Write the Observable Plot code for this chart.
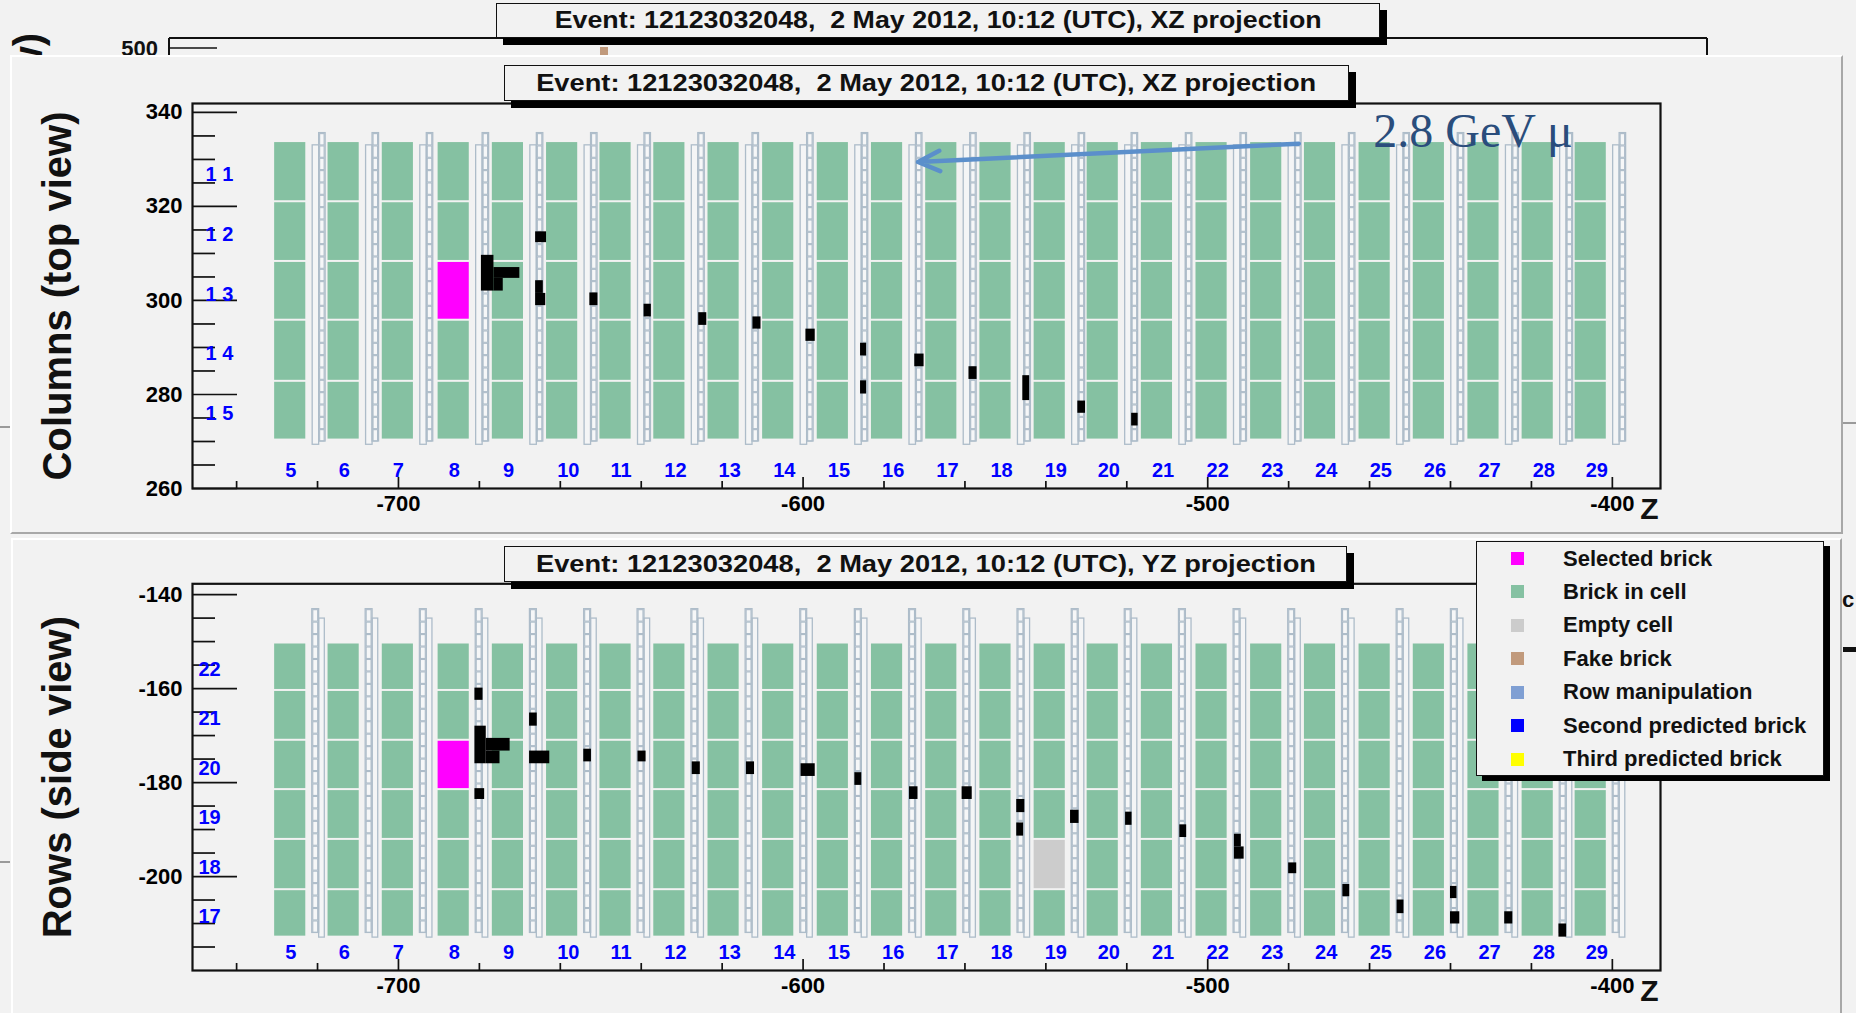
<!DOCTYPE html>
<html>
<head>
<meta charset="utf-8">
<script src="https://cdn.jsdelivr.net/npm/d3@7"></script>
<script src="https://cdn.jsdelivr.net/npm/@observablehq/plot@0.6"></script>
<style>
html, body { margin: 0; padding: 0; background: #f2f2f2; }
#page { position: relative; width: 1856px; height: 1013px; overflow: hidden; background: #f2f2f2;
  font-family: "Liberation Sans", Arial, Helvetica, sans-serif; }
.panel { position: absolute; box-sizing: border-box; background: #f2f2f2;
  border-top: 2px solid #ffffff; border-left: 2px solid #ffffff;
  border-right: 2px solid #a8a8a8; border-bottom: 2px solid #a8a8a8; }
.titlebox { position: absolute; box-sizing: border-box; border: 1.5px solid #111; background: #f2f2f2;
  box-shadow: 7px 7px 0 #000; display: flex; align-items: center; justify-content: center;
  white-space: pre; overflow: visible; }
.titlebox span { display: inline-block; white-space: pre; font-weight: bold; font-size: 23px; color: #111; transform-origin: 50% 50%; }
.legend { position: absolute; box-sizing: border-box; border: 1.5px solid #111; background: #f2f2f2;
  box-shadow: 6px 5px 0 #000; }
.legend .sw { position: absolute; width: 13px; height: 13px; }
.legend .lab { position: absolute; font-weight: bold; font-size: 22px; color: #111; white-space: nowrap; line-height: 1; }
.plotwrap { position: absolute; }
</style>
</head>
<body>
<div id="page"></div>
<script>
// ---------------- data ----------------
const walls = [5,6,7,8,9,10,11,12,13,14,15,16,17,18,19,20,21,22,23,24,25,26,27,28,29];
// upstream (left) face of each brick wall, Z
const wallZ = [-730.6,-717.4,-704.0,-690.2,-676.8,-663.4,-650.2,-636.9,-623.5,-610.0,-596.5,-583.1,
  -569.7,-556.3,-542.9,-529.8,-516.4,-502.9,-489.4,-476.1,-462.6,-449.2,-435.7,-422.3,-409.2];
const brickDepth = 7.7;

// top view (XZ): brick column boundaries and labels (bottom to top)
const topRowEdges = [270.3, 282.8, 295.8, 308.3, 321.0, 333.8];
const topRowLabels = ["1 5", "1 4", "1 3", "1 2", "1 1"];
// side view (YZ): brick row boundaries and labels (bottom to top)
const sideRowEdges = [-212.9, -202.8, -192.1, -181.5, -171.0, -160.4, -150.3];
const sideRowLabels = ["17", "18", "19", "20", "21", "22"];

const selectedWall = 8;
const selectedTopRow = "1 3";
const selectedSideRow = "20";
const emptyWall = 19;
const emptySideRow = "18";

// electronic detector hits [z1, z2, y1, y2]
const topHits = [
  [-679.5,-676.4,302.0,309.6],[-676.4,-670.0,304.7,307.0],[-676.4,-674.1,302.0,304.7],
  [-666.1,-663.4,312.3,314.6],[-666.1,-664.2,301.5,304.2],[-666.1,-663.6,298.9,301.5],
  [-652.7,-650.7,298.9,301.6],[-639.3,-637.5,296.5,299.2],[-625.8,-623.8,294.7,297.4],
  [-612.4,-610.4,293.9,296.5],[-599.3,-597.0,291.3,293.9],[-585.8,-584.3,288.2,290.9],
  [-585.8,-584.3,280.1,282.9],[-572.4,-570.1,285.9,288.6],[-559.0,-557.0,283.2,285.9],
  [-545.7,-544.0,278.7,284.0],[-532.1,-530.2,276.0,278.6],[-518.8,-517.2,273.3,276.0]
];
const sideHits = [
  [-681.1,-679.1,-162.5,-159.9],[-681.1,-678.3,-176.0,-168.0],[-678.3,-672.4,-173.3,-170.6],
  [-678.3,-674.9,-176.0,-173.3],[-681.1,-678.7,-183.6,-181.3],[-667.6,-665.7,-168.0,-165.2],
  [-667.6,-662.6,-176.0,-173.3],[-654.2,-652.3,-175.6,-172.9],[-640.8,-638.8,-175.6,-173.3],
  [-627.4,-625.4,-178.3,-175.6],[-614.0,-612.0,-178.3,-175.6],[-600.5,-597.0,-178.7,-176.0],
  [-587.2,-585.5,-180.6,-177.9],[-573.7,-571.6,-183.6,-180.9],[-560.7,-558.2,-183.6,-180.9],
  [-547.2,-545.2,-186.4,-183.6],[-547.2,-545.5,-191.4,-188.6],[-533.9,-531.8,-188.7,-185.9],
  [-520.3,-518.7,-189.1,-186.3],[-506.9,-505.2,-191.7,-189.0],[-493.4,-491.7,-193.7,-191.0],
  [-493.4,-491.0,-196.3,-193.7],[-480.0,-478.0,-199.4,-197.1],[-466.6,-464.9,-204.3,-201.7],
  [-453.2,-451.5,-207.9,-205.0],[-440.0,-438.4,-204.7,-202.1],[-440.0,-437.7,-210.1,-207.5],
  [-426.6,-424.6,-210.1,-207.5],[-413.2,-411.3,-212.9,-210.1]
];

// axes
const zDomain = [-750.9, -388.1];
const topDomain = [260, 341.9];
const sideDomain = [-220, -137.7];
const zMajorTicks = [-700, -600, -500, -400];
const zMinorTicks = [-740,-720,-680,-660,-640,-620,-580,-560,-540,-520,-480,-460,-440,-420];
const topMajorTicks = [260, 280, 300, 320, 340];
const topMinorTicks = [265,270,275,285,290,295,305,310,315,325,330,335];
const sideMajorTicks = [-200, -180, -160, -140];
const sideMinorTicks = [-215,-210,-205,-195,-190,-185,-175,-170,-165,-155,-150,-145];

// annotation
const muonLabel = "2.8 GeV μ";
const muonArrow = [{z1: -477.5, y1: 333.35, z2: -571.6, y2: 329.45}];
const muonLabelAt = [{z: -459.1, y: 332.6}];

const titleXZ = "Event: 12123032048,  2 May 2012, 10:12 (UTC), XZ projection";
const titleYZ = "Event: 12123032048,  2 May 2012, 10:12 (UTC), YZ projection";

const legendLabels = ["Selected brick", "Brick in cell", "Empty cell", "Fake brick",
  "Row manipulation", "Second predicted brick", "Third predicted brick"];
const legendColors = ["#ff00ff", "#85c1a2", "#cccccc", "#c19a7c", "#7f9fd3", "#0000ff", "#ffff00"];

// ---------------- layout / styling ----------------
const GREEN = "#85c1a2", MAGENTA = "#ff00ff", EMPTY = "#cccccc", BLUE = "#0000ff";
const TT_STROKE = "#adbcc9";
const FONT = "Liberation Sans, Arial, Helvetica, sans-serif";
// target-tracker strip geometry (offset after wall downstream face, vertical extent)
const ttTop = { plain: [1.7, 3.3, 269.3, 333.0], cells: [3.3, 4.9, 270.0, 335.6], n: 25 };
const ttSide = { cells: [1.6, 3.3, -212.0, -143.1], plain: [3.3, 4.7, -213.0, -145.1], n: 26 };

function bricks(edges, labels, selRow, emptyRow) {
  const out = [];
  walls.forEach((w, i) => {
    labels.forEach((lab, r) => {
      let fill = GREEN;
      if (w === selectedWall && lab === selRow) fill = MAGENTA;
      if (emptyRow && w === emptyWall && lab === emptyRow) fill = EMPTY;
      out.push({z1: wallZ[i], z2: wallZ[i] + brickDepth, y1: edges[r], y2: edges[r + 1], fill});
    });
  });
  return out;
}
function ttPlain(cfg) {
  const [o1, o2, b, t] = cfg.plain;
  return wallZ.map(z => ({z1: z + brickDepth + o1, z2: z + brickDepth + o2, y1: b, y2: t}));
}
function ttCells(cfg) {
  const [o1, o2, b, t] = cfg.cells;
  const h = (t - b) / cfg.n;
  return wallZ.flatMap(z => d3.range(cfg.n).map(k => ({
    z1: z + brickDepth + o1, z2: z + brickDepth + o2, y1: b + k * h, y2: b + (k + 1) * h})));
}
function ttOutline(cfg) {
  const [o1, o2, b, t] = cfg.cells;
  return wallZ.map(z => ({z1: z + brickDepth + o1, z2: z + brickDepth + o2, y1: b, y2: t}));
}
const R = {x1: "z1", x2: "z2", y1: "y1", y2: "y2"};
const H = {x1: d => d[0], x2: d => d[1], y1: d => d[2], y2: d => d[3]};

function panel({yDomain, height, marginTop, marginBottom, edges, labels, selRow, emptyRow, hits, tt,
                majorY, minorY, title, labelDx, extra = []}) {
  const width = 1840, marginLeft = 192, marginRight = 180;
  const innerW = width - marginLeft - marginRight;
  const innerH = height - marginTop - marginBottom;
  const rowCenters = labels.map((l, i) => (edges[i] + edges[i + 1]) / 2);
  return Plot.plot({
    width, height, marginLeft, marginRight, marginTop, marginBottom,
    x: {domain: zDomain, label: null},
    y: {domain: yDomain, label: null},
    style: {background: "transparent", fontFamily: FONT, overflow: "visible"},
    marks: [
      Plot.rect(bricks(edges, labels, selRow, emptyRow), {...R, fill: "fill", insetTop: 1, insetBottom: 1}),
      Plot.rect(ttPlain(tt), {...R, fill: "#f4f5f6", stroke: TT_STROKE, strokeWidth: 1.3}),
      Plot.rect(ttCells(tt), {...R, fill: "#f6f7f8", stroke: TT_STROKE, strokeWidth: 1.1, insetLeft: 1, insetRight: 1, insetTop: 1}),
      Plot.rect(ttOutline(tt), {...R, fill: "none", stroke: TT_STROKE, strokeWidth: 1.3}),
      Plot.rect(hits, {...H, fill: "#000"}),
      Plot.tickY(majorY, {y: d => d, insetRight: innerW - 45, stroke: "#111", strokeWidth: 1.7}),
      Plot.tickY(minorY, {y: d => d, insetRight: innerW - 23, stroke: "#111", strokeWidth: 1.7}),
      Plot.tickX(zMajorTicks, {x: d => d, insetTop: innerH - 11, stroke: "#111", strokeWidth: 1.7}),
      Plot.tickX(zMinorTicks, {x: d => d, insetTop: innerH - 7, stroke: "#111", strokeWidth: 1.7}),
      Plot.frame({stroke: "#111", strokeWidth: 2.2}),
      Plot.axisY({ticks: majorY, tickSize: 0, tickPadding: 10, tickFormat: d => String(d),
        fontSize: 22, fontWeight: "bold", label: null}),
      Plot.axisX({ticks: zMajorTicks, tickSize: 0, tickPadding: 7, tickFormat: d => String(d),
        fontSize: 22, fontWeight: "bold", label: null}),
      Plot.text(walls, {x: (d, i) => wallZ[i] + brickDepth / 2, frameAnchor: "bottom", dy: -12, dx: -5,
        textAnchor: "start", text: d => String(d), fill: BLUE, fontSize: 20, fontWeight: "bold"}),
      Plot.text(labels, {y: (d, i) => rowCenters[i] - 0.7, frameAnchor: "left", dx: labelDx,
        textAnchor: "start", text: d => d, fill: BLUE, fontSize: 20, fontWeight: "bold"}),
      Plot.text([title], {frameAnchor: "left", dx: -134, rotate: -90, text: d => d, textAnchor: "middle",
        lineAnchor: "middle", fontSize: 40, fontWeight: "bold", fill: "#111"}),
      Plot.text(["Z"], {frameAnchor: "bottom-right", dx: -2, dy: 30, textAnchor: "end", lineAnchor: "bottom",
        text: d => d, fontSize: 30, fontWeight: "bold", fill: "#111"}),
      ...extra
    ]
  });
}

// ---------------- page assembly ----------------
const page = document.getElementById("page");
function el(tag, cls, style, html) {
  const e = document.createElement(tag);
  if (cls) e.className = cls;
  if (style) Object.assign(e.style, style);
  if (html != null) e.innerHTML = html;
  page.appendChild(e);
  return e;
}

// background window (partially hidden) decorations
const ns = "http://www.w3.org/2000/svg";
const bg = document.createElementNS(ns, "svg");
bg.setAttribute("width", 1856); bg.setAttribute("height", 1013);
bg.style.position = "absolute"; bg.style.left = "0"; bg.style.top = "0";
bg.innerHTML = `
  <g font-family="${FONT}" font-weight="bold">
    <line x1="169" y1="38" x2="1707" y2="38" stroke="#111" stroke-width="2"/>
    <line x1="169" y1="38" x2="169" y2="60" stroke="#111" stroke-width="2"/>
    <line x1="1707" y1="38" x2="1707" y2="60" stroke="#111" stroke-width="2"/>
    <line x1="169" y1="48" x2="217" y2="48" stroke="#111" stroke-width="1.7"/>
    <text x="158" y="56" text-anchor="end" font-size="22" fill="#111">500</text>
    <rect x="600" y="47" width="8" height="10" fill="#c19a7c"/>
    <text transform="translate(42,33) rotate(-90)" text-anchor="end" font-size="40" fill="#111">Rows (side view)</text>
    <line x1="0" y1="427" x2="10" y2="427" stroke="#9a9a9a" stroke-width="2"/>
    <line x1="0" y1="862" x2="10" y2="862" stroke="#9a9a9a" stroke-width="2"/>
    <line x1="1843" y1="423" x2="1856" y2="423" stroke="#9a9a9a" stroke-width="2"/>
    <rect x="1843" y="647" width="13" height="5" fill="#111"/>
    <text x="1842" y="607" font-size="22" fill="#111">c</text>
  </g>`;
page.appendChild(bg);

const bgTitle = el("div", "titlebox", {left: "496px", top: "3px", width: "884px", height: "35px"},
  `<span>${titleXZ}</span>`);

el("div", "panel", {left: "10px", top: "55px", width: "1833px", height: "479px"});
el("div", "panel", {left: "11px", top: "538px", width: "1831px", height: "480px"});

const topPlot = panel({
  yDomain: topDomain, height: 474, marginTop: 47, marginBottom: 42,
  edges: topRowEdges, labels: topRowLabels, selRow: selectedTopRow, emptyRow: null,
  hits: topHits, tt: ttTop, majorY: topMajorTicks, minorY: topMinorTicks,
  title: "Columns (top view)", labelDx: 13,
  extra: [
    Plot.arrow(muonArrow, {x1: "z1", y1: "y1", x2: "z2", y2: "y2", stroke: "#5b8fcb",
      strokeWidth: 4.5, headLength: 8, headAngle: 50, strokeLinecap: "round"}),
    Plot.text(muonLabelAt, {x: "z", y: "y", text: () => muonLabel, textAnchor: "start", lineAnchor: "bottom",
      fontSize: 48, fontFamily: "Liberation Serif, Times New Roman, serif", fill: "#2a4d7c"})
  ]
});
const w1 = el("div", "plotwrap", {left: "0px", top: "56px"});
w1.appendChild(topPlot);

const sidePlot = panel({
  yDomain: sideDomain, height: 473, marginTop: 43.3, marginBottom: 43,
  edges: sideRowEdges, labels: sideRowLabels, selRow: selectedSideRow, emptyRow: emptySideRow,
  hits: sideHits, tt: ttSide, majorY: sideMajorTicks, minorY: sideMinorTicks,
  title: "Rows (side view)", labelDx: 6
});
const w2 = el("div", "plotwrap", {left: "0px", top: "540px"});
w2.appendChild(sidePlot);

const t1 = el("div", "titlebox", {left: "504px", top: "65px", width: "845px", height: "36px"},
  `<span>${titleXZ}</span>`);
const t2 = el("div", "titlebox", {left: "504px", top: "546px", width: "843px", height: "36px"},
  `<span>${titleYZ}</span>`);

// legend
const lg = el("div", "legend", {left: "1476px", top: "541px", width: "348px", height: "235px"});
legendLabels.forEach((lab, i) => {
  const cy = 16.5 + i * 33.45;
  const sw = document.createElement("div");
  sw.className = "sw";
  Object.assign(sw.style, {left: "34px", top: (cy - 6.5) + "px", background: legendColors[i]});
  lg.appendChild(sw);
  const t = document.createElement("div");
  t.className = "lab";
  t.textContent = lab;
  Object.assign(t.style, {left: "86px", top: (cy - 11) + "px"});
  lg.appendChild(t);
});

// fit the title texts to their measured widths
function fit(box, target) {
  const s = box.querySelector("span");
  const w = s.getBoundingClientRect().width;
  if (w > 0) s.style.transform = `scaleX(${target / w})`;
}
fit(bgTitle, 767);
fit(t1, 780);
fit(t2, 780);
</script>
</body>
</html>
